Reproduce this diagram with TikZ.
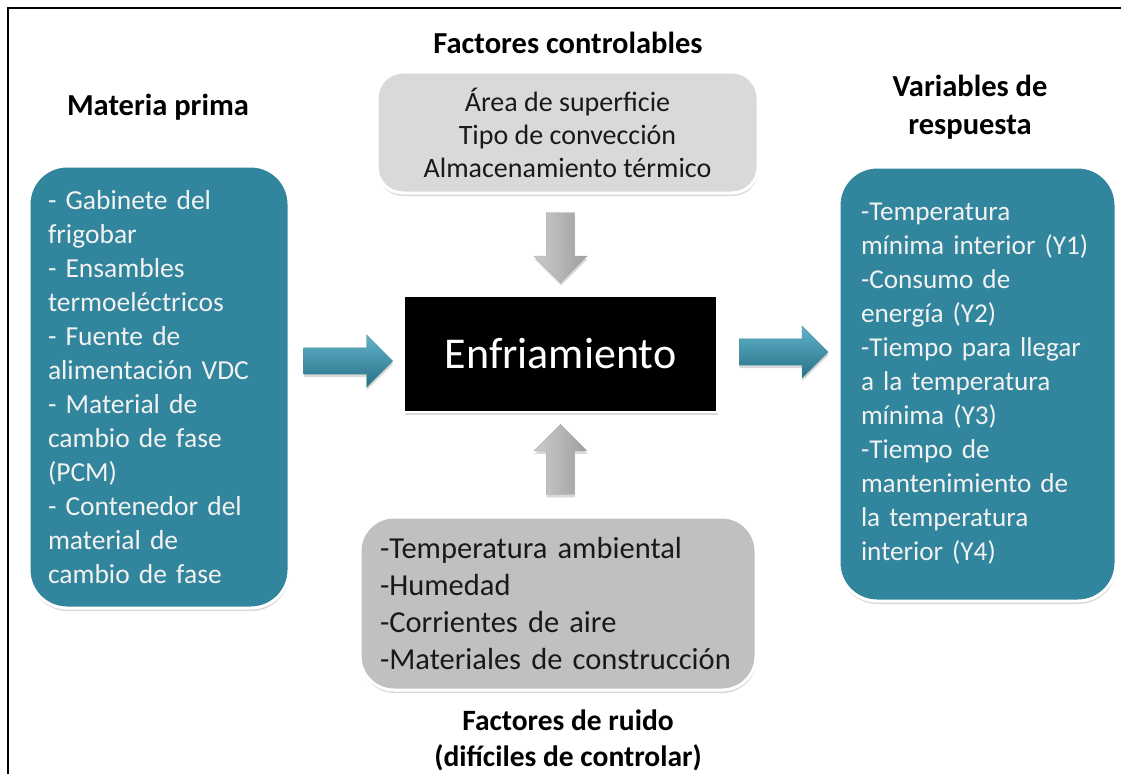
\documentclass[tikz,border=0pt]{standalone}
\usepackage{fontspec}
\setmainfont{Carlito}
\usetikzlibrary{positioning,shapes.arrows,shadows}

\definecolor{tealbox}{RGB}{49,133,156}
\definecolor{teallight}{RGB}{98,180,203}
\definecolor{tealdark}{RGB}{38,112,134}
\definecolor{ctrlgray}{RGB}{217,217,217}
\definecolor{noisegray}{RGB}{192,192,192}

\begin{document}
\begin{tikzpicture}[x=1pt,y=-1pt,
	shade/.style={drop shadow={shadow xshift=0.5pt,shadow yshift=-3pt,opacity=0.3}},
	listbox/.style={rectangle,rounded corners=38pt,fill=tealbox,draw=white,line width=3pt,
		text=white!95!black,align=left,inner ysep=0pt,font=\fontsize{27.5}{34}\selectfont,shade},
	factorbox/.style={rectangle,draw=white,line width=3pt,text=black!90,inner ysep=0pt,shade},
	heading/.style={font=\bfseries\fontsize{30.5}{38}\selectfont,align=center},
	tealarrow/.style={single arrow,single arrow head extend=13pt,single arrow tip angle=90,
		inner sep=13pt,minimum height=89pt,minimum width=52pt,top color=teallight,bottom color=tealdark,
		draw=tealdark!80,line width=0.4pt,shade},
	grayarrow/.style={single arrow,single arrow head extend=12.5pt,single arrow tip angle=90,
		inner sep=14pt,minimum height=70pt,minimum width=53pt,left color=black!20,right color=black!38,
		draw=black!35,line width=0.4pt,shade}]
	\useasboundingbox (0,0) rectangle (1121,774);
	\draw[line width=2pt] (8,774) -- (8,8) -- (1121,8);
	
	\node[rectangle,fill=black,draw=white,line width=2pt,minimum width=313pt,minimum height=116pt,
		text=white,font=\fontsize{44}{52}\selectfont,shade] (cool) at (560.5,354) {Enfriamiento};
	
	\node[listbox,text width=222pt,inner xsep=19pt,minimum height=442pt] (raw) at (159,387)
	{- Gabinete del\\frigobar\\- Ensambles\\termoeléctricos\\- Fuente de\\alimentación VDC\\- Material de\\cambio de fase\\(PCM)\\- Contenedor del\\material de\\cambio de fase};
	\node[heading] (rawtitle) at (158,107) {Materia prima};
	
	\node[listbox,text width=233pt,inner xsep=22pt,minimum height=434pt,
		font=\fontsize{27.2}{34}\selectfont] (resp) at (977.5,384)
	{-Temperatura\\mínima interior (Y1)\\-Consumo de\\energía (Y2)\\-Tiempo para llegar\\a la temperatura\\mínima (Y3)\\-Tiempo de\\mantenimiento de\\la temperatura\\interior (Y4)};
	\node[heading] (resptitle) at (970,107) {Variables de\\respuesta};
	
	\node[factorbox,rounded corners=26pt,fill=ctrlgray,align=center,minimum width=381pt,minimum height=121pt,
		font=\fontsize{28}{33}\selectfont] (ctrl) at (567.5,132.5)
	{Área de superficie\\Tipo de convección\\Almacenamiento térmico};
	\node[heading] (ctrltitle) at (568,43) {Factores controlables};
	
	\node[factorbox,rounded corners=34pt,fill=noisegray,align=left,text width=356pt,inner xsep=20pt,
		minimum height=173pt,font=\fontsize{30.5}{37}\selectfont] (noise) at (558,603.5)
	{-Temperatura ambiental\\-Humedad\\-Corrientes de aire\\-Materiales de construcción};
	\node[heading,font=\bfseries\fontsize{29.5}{36}\selectfont] (noisetitle) at (568,740)
	{Factores de ruido\\(difíciles de controlar)};
	
	\node[tealarrow,anchor=tip] (inarrow) at ([xshift=-10pt,yshift=-7pt]cool.west) {};
	\node[tealarrow,anchor=tail] (outarrow) at ([xshift=21pt,yshift=2pt]cool.east) {};
	\node[grayarrow,shape border rotate=270,anchor=tip] (ctrlarrow) at ([yshift=12pt]cool.north) {};
	\node[grayarrow,shape border rotate=90,anchor=tip] (noisearrow) at ([yshift=-11pt]cool.south) {};
	
\end{tikzpicture}
\end{document}
